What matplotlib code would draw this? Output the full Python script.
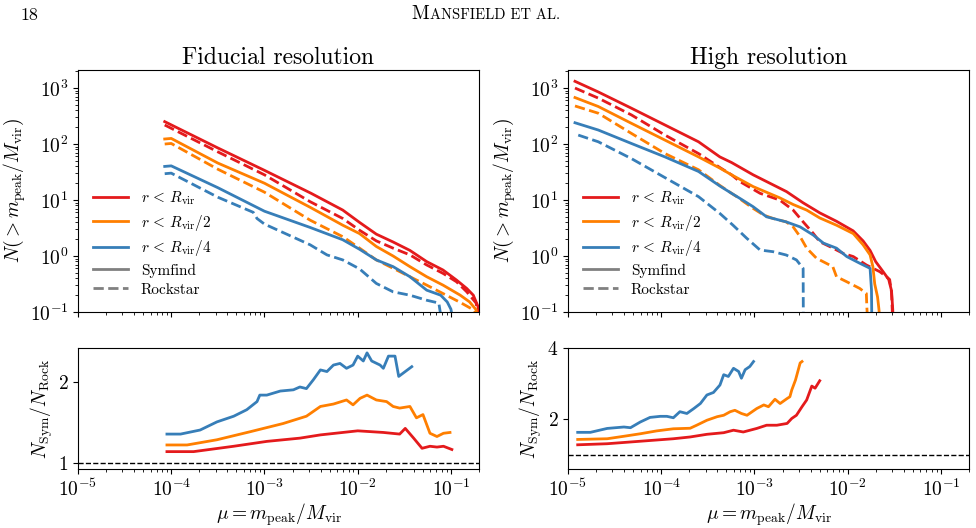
import numpy as np
import matplotlib
matplotlib.use("Agg")
import matplotlib.pyplot as plt
from matplotlib.lines import Line2D
from matplotlib.offsetbox import TextArea, HPacker, AnchoredOffsetbox

plt.rcParams["font.family"] = "serif"
plt.rcParams["font.serif"] = ["cmr10"]
plt.rcParams["mathtext.fontset"] = "cm"
plt.rcParams["axes.formatter.use_mathtext"] = True
plt.rcParams["axes.unicode_minus"] = False

RED, ORANGE, BLUE, GRAY = "#e41a1c", "#ff7f00", "#377eb8", "#808080"

# values, stored as log10(mu), log10(N)
# --- fiducial resolution, cumulative counts
fid_red_sym_x = [-4.07, -3.5, -3.0, -2.5, -2.16, -1.98, -1.80, -1.62, -1.44, -1.26, -1.085, -0.94, -0.83, -0.76, -0.71, -0.70]
fid_red_sym_y = [2.40, 1.93, 1.53, 1.12, 0.82, 0.60, 0.39, 0.25, 0.10, -0.10, -0.25, -0.43, -0.58, -0.70, -0.90, -1.05]
fid_red_rock_x = [-4.07, -3.5, -3.0, -2.51, -2.16, -1.98, -1.80, -1.62, -1.44, -1.26, -1.085, -0.94, -0.83, -0.73, -0.71]
fid_red_rock_y = [2.34, 1.86, 1.45, 0.97, 0.67, 0.46, 0.27, 0.14, 0.02, -0.16, -0.31, -0.46, -0.64, -0.84, -1.05]
fid_orange_sym_x = [-4.07, -4.0, -3.5, -3.0, -2.51, -2.16, -1.98, -1.80, -1.62, -1.44, -1.26, -1.085, -0.90, -0.80, -0.73, -0.72]
fid_orange_sym_y = [2.09, 2.10, 1.66, 1.30, 0.87, 0.55, 0.40, 0.17, 0.0, -0.19, -0.37, -0.52, -0.70, -0.82, -0.96, -1.05]
fid_orange_rock_x = [-4.07, -4.0, -3.5, -3.0, -2.51, -2.16, -1.98, -1.80, -1.62, -1.44, -1.26, -1.085, -0.91, -0.76, -0.72]
fid_orange_rock_y = [2.00, 2.01, 1.55, 1.14, 0.64, 0.345, 0.14, -0.07, -0.22, -0.37, -0.52, -0.67, -0.82, -0.96, -1.05]
fid_blue_sym_x = [-4.07, -4.0, -3.5, -3.0, -2.51, -2.16, -1.98, -1.80, -1.62, -1.44, -1.26, -1.11, -1.04, -1.00, -0.99]
fid_blue_sym_y = [1.60, 1.61, 1.22, 0.80, 0.51, 0.29, 0.12, -0.07, -0.19, -0.37, -0.61, -0.70, -0.82, -0.95, -1.05]
fid_blue_rock_x = [-4.07, -4.0, -3.5, -3.12, -3.08, -3.0, -2.51, -2.33, -2.16, -1.98, -1.80, -1.62, -1.44, -1.26, -1.13, -1.11]
fid_blue_rock_y = [1.47, 1.48, 1.05, 0.78, 0.67, 0.57, 0.20, 0.02, -0.07, -0.23, -0.49, -0.64, -0.70, -0.79, -0.84, -1.05]

# --- high resolution, cumulative counts
hi_red_sym_x = [-4.925, -4.675, -4.32, -3.96, -3.60, -3.371, -3.246, -3.014, -2.835, -2.656, -2.478, -2.299, -2.12, -1.942, -1.835, -1.76, -1.70, -1.62, -1.56, -1.53, -1.517, -1.515]
hi_red_sym_y = [3.12, 2.93, 2.64, 2.34, 2.04, 1.77, 1.67, 1.45, 1.30, 1.15, 0.95, 0.77, 0.62, 0.45, 0.27, 0.10, -0.10, -0.28, -0.42, -0.62, -0.95, -1.05]
hi_red_rock_x = [-4.925, -4.675, -4.32, -3.96, -3.60, -3.371, -3.246, -3.157, -2.94, -2.73, -2.585, -2.478, -2.37, -2.30, -2.19, -2.05, -1.94, -1.80, -1.656, -1.584, -1.55, -1.53, -1.52]
hi_red_rock_y = [3.00, 2.82, 2.52, 2.16, 1.83, 1.58, 1.45, 1.33, 1.12, 1.00, 0.82, 0.61, 0.405, 0.255, 0.167, 0.048, -0.01, -0.16, -0.28, -0.37, -0.42, -0.65, -1.05]
hi_orange_sym_x = [-4.925, -4.675, -4.32, -3.96, -3.60, -3.371, -3.246, -3.014, -2.73, -2.585, -2.44, -2.30, -2.12, -1.94, -1.835, -1.76, -1.73, -1.71, -1.68, -1.665, -1.66]
hi_orange_sym_y = [2.83, 2.67, 2.37, 2.07, 1.77, 1.57, 1.45, 1.24, 1.04, 0.92, 0.82, 0.68, 0.55, 0.40, 0.20, 0.02, -0.19, -0.50, -0.73, -0.95, -1.05]
hi_orange_rock_x = [-4.925, -4.675, -4.32, -3.96, -3.60, -3.371, -3.246, -3.19, -3.014, -2.90, -2.80, -2.66, -2.585, -2.51, -2.44, -2.335, -2.16, -2.12, -2.01, -1.87, -1.80, -1.795, -1.79]
hi_orange_rock_y = [2.68, 2.55, 2.19, 1.83, 1.54, 1.26, 1.12, 1.06, 0.85, 0.73, 0.67, 0.61, 0.52, 0.345, 0.14, -0.04, -0.19, -0.37, -0.46, -0.58, -0.67, -0.90, -1.05]
hi_blue_sym_x = [-4.925, -4.675, -4.32, -3.96, -3.60, -3.371, -3.246, -3.157, -3.014, -2.87, -2.66, -2.51, -2.37, -2.26, -2.12, -2.01, -1.87, -1.76, -1.745, -1.742]
hi_blue_sym_y = [2.38, 2.25, 2.01, 1.77, 1.51, 1.25, 1.12, 1.03, 0.88, 0.70, 0.61, 0.52, 0.375, 0.23, 0.14, -0.01, -0.13, -0.22, -0.60, -1.05]
hi_blue_rock_x = [-4.89, -4.675, -4.32, -3.96, -3.60, -3.371, -3.23, -3.085, -2.94, -2.80, -2.66, -2.55, -2.478, -2.476]
hi_blue_rock_y = [2.16, 2.04, 1.74, 1.40, 1.06, 0.76, 0.55, 0.32, 0.107, 0.077, 0.018, -0.07, -0.22, -1.05]

# --- ratio N_Sym / N_Rock (linear values), fiducial
fid_ratio_blue_x = [-4.046, -3.90, -3.69, -3.51, -3.33, -3.19, -3.08, -3.05, -2.975, -2.83, -2.69, -2.62, -2.55, -2.475, -2.40, -2.33, -2.26, -2.19, -2.12, -2.05, -2.0, -1.94, -1.90, -1.85, -1.76, -1.725, -1.67, -1.60, -1.56, -1.49, -1.42]
fid_ratio_blue_y = [1.36, 1.36, 1.41, 1.51, 1.58, 1.66, 1.76, 1.84, 1.84, 1.89, 1.905, 1.94, 1.92, 2.03, 2.15, 2.13, 2.21, 2.23, 2.17, 2.21, 2.32, 2.26, 2.36, 2.26, 2.21, 2.17, 2.32, 2.32, 2.07, 2.13, 2.19]
fid_ratio_orange_x = [-4.046, -3.83, -3.51, -3.15, -2.80, -2.55, -2.40, -2.26, -2.12, -2.05, -1.975, -1.90, -1.80, -1.69, -1.62, -1.55, -1.44, -1.37, -1.30, -1.225, -1.15, -1.08, -1.01]
fid_ratio_orange_y = [1.226, 1.226, 1.29, 1.39, 1.49, 1.58, 1.70, 1.73, 1.78, 1.72, 1.80, 1.84, 1.78, 1.76, 1.70, 1.68, 1.70, 1.56, 1.60, 1.37, 1.33, 1.37, 1.38]
fid_ratio_red_x = [-4.046, -3.76, -3.33, -2.975, -2.62, -2.40, -2.0, -1.725, -1.55, -1.49, -1.40, -1.31, -1.225, -1.15, -1.08, -0.99]
fid_ratio_red_y = [1.144, 1.144, 1.21, 1.27, 1.31, 1.35, 1.40, 1.38, 1.36, 1.43, 1.31, 1.185, 1.21, 1.20, 1.21, 1.17]

# --- ratio, high resolution
hi_ratio_blue_x = [-4.896, -4.76, -4.58, -4.40, -4.33, -4.225, -4.12, -4.01, -3.94, -3.87, -3.80, -3.725, -3.65, -3.58, -3.51, -3.44, -3.37, -3.33, -3.28, -3.225, -3.17, -3.14, -3.10, -3.05, -3.01]
hi_ratio_blue_y = [1.63, 1.63, 1.74, 1.78, 1.76, 1.92, 2.05, 2.08, 2.08, 2.04, 2.21, 2.16, 2.30, 2.44, 2.68, 2.75, 2.96, 3.25, 3.20, 3.43, 3.34, 3.15, 3.39, 3.48, 3.62]
hi_ratio_orange_x = [-4.896, -4.58, -4.40, -4.225, -4.05, -3.87, -3.69, -3.62, -3.51, -3.40, -3.33, -3.26, -3.21, -3.14, -3.08, -2.975, -2.90, -2.85, -2.78, -2.725, -2.65, -2.62, -2.60, -2.56, -2.51, -2.49]
hi_ratio_orange_y = [1.43, 1.45, 1.52, 1.59, 1.67, 1.73, 1.745, 1.83, 1.97, 2.07, 2.11, 2.21, 2.25, 2.16, 2.11, 2.30, 2.40, 2.35, 2.56, 2.44, 2.58, 2.63, 2.82, 3.10, 3.58, 3.62]
hi_ratio_red_x = [-4.896, -4.58, -4.225, -3.87, -3.69, -3.51, -3.33, -3.225, -3.12, -2.975, -2.87, -2.76, -2.65, -2.60, -2.55, -2.49, -2.44, -2.385, -2.35, -2.30]
hi_ratio_red_y = [1.28, 1.31, 1.38, 1.45, 1.50, 1.575, 1.62, 1.69, 1.64, 1.74, 1.83, 1.83, 1.88, 2.02, 2.11, 2.35, 2.54, 2.93, 2.87, 3.08]

fid_curves = [
    (fid_red_sym_x, fid_red_sym_y, RED, "-"),
    (fid_red_rock_x, fid_red_rock_y, RED, "--"),
    (fid_orange_sym_x, fid_orange_sym_y, ORANGE, "-"),
    (fid_orange_rock_x, fid_orange_rock_y, ORANGE, "--"),
    (fid_blue_sym_x, fid_blue_sym_y, BLUE, "-"),
    (fid_blue_rock_x, fid_blue_rock_y, BLUE, "--"),
]
hi_curves = [
    (hi_red_sym_x, hi_red_sym_y, RED, "-"),
    (hi_red_rock_x, hi_red_rock_y, RED, "--"),
    (hi_orange_sym_x, hi_orange_sym_y, ORANGE, "-"),
    (hi_orange_rock_x, hi_orange_rock_y, ORANGE, "--"),
    (hi_blue_sym_x, hi_blue_sym_y, BLUE, "-"),
    (hi_blue_rock_x, hi_blue_rock_y, BLUE, "--"),
]
fid_ratios = [
    (fid_ratio_blue_x, fid_ratio_blue_y, BLUE),
    (fid_ratio_orange_x, fid_ratio_orange_y, ORANGE),
    (fid_ratio_red_x, fid_ratio_red_y, RED),
]
hi_ratios = [
    (hi_ratio_blue_x, hi_ratio_blue_y, BLUE),
    (hi_ratio_orange_x, hi_ratio_orange_y, ORANGE),
    (hi_ratio_red_x, hi_ratio_red_y, RED),
]

XLIM = (1e-5, 0.2)
LW = 2.0

fig = plt.figure(figsize=(9.76, 5.28), dpi=100)
W, H = 976.0, 528.0


def box(x0, x1, ytop, ybot):
    return [x0 / W, 1 - ybot / H, (x1 - x0) / W, (ybot - ytop) / H]


ax_ft = fig.add_axes(box(78, 479, 70, 312))
ax_ht = fig.add_axes(box(568, 969, 70, 312))
ax_fb = fig.add_axes(box(78, 479, 348, 469))
ax_hb = fig.add_axes(box(568, 969, 348, 469))

for ax, curves, title in [(ax_ft, fid_curves, "Fiducial resolution"),
                          (ax_ht, hi_curves, "High resolution")]:
    for x, y, c, ls in curves:
        ax.plot(10 ** np.array(x), 10 ** np.array(y), color=c, ls=ls, lw=LW)
    ax.set_xscale("log"); ax.set_yscale("log")
    ax.set_xlim(*XLIM); ax.set_ylim(0.1, 2.1e3)
    ax.set_xticks([1e-5, 1e-4, 1e-3, 1e-2, 1e-1])
    ax.tick_params(labelbottom=False, labelsize=14)
    ax.set_ylabel(r"$N(>m_{\rm peak}/M_{\rm vir})$", fontsize=14, labelpad=1)
    ax.set_title(title, fontsize=17, pad=4)
    handles = [Line2D([], [], color=RED, lw=LW), Line2D([], [], color=ORANGE, lw=LW),
               Line2D([], [], color=BLUE, lw=LW), Line2D([], [], color=GRAY, lw=LW),
               Line2D([], [], color=GRAY, lw=LW, ls="--")]
    labels = [r"$r\,<\,R_{\rm vir}$", r"$r\,<\,R_{\rm vir}/2$", r"$r\,<\,R_{\rm vir}/4$",
              "Symfind", "Rockstar"]
    ax.legend(handles, labels, loc="lower left", frameon=False, fontsize=11,
              handlelength=2.3, handletextpad=0.8, labelspacing=0.35,
              borderaxespad=0.6)

for ax, ratios, yl, yt in [(ax_fb, fid_ratios, (0.93, 2.42), [1, 2]),
                           (ax_hb, hi_ratios, (0.6, 4.0), [2, 4])]:
    for x, y, c in ratios:
        ax.plot(10 ** np.array(x), y, color=c, lw=LW)
    ax.axhline(1.0, color="k", ls="--", lw=1.0)
    ax.set_xscale("log")
    ax.set_xlim(*XLIM); ax.set_ylim(*yl)
    ax.set_xticks([1e-5, 1e-4, 1e-3, 1e-2, 1e-1])
    ax.set_yticks(yt)
    ax.tick_params(labelsize=14)
    ax.set_ylabel(r"$N_{\rm Sym}/N_{\rm Rock}$", fontsize=14, labelpad=2)
    ax.set_xlabel(r"$\mu = m_{\rm peak}/M_{\rm vir}$", fontsize=14, labelpad=1)

# running head
fig.text(20 / W, 1 - 20 / H, "18", fontsize=13, ha="left", va="baseline")
head = HPacker(children=[TextArea("M", textprops=dict(fontsize=14)),
                         TextArea("ANSFIELD ET AL.", textprops=dict(fontsize=10.5))],
               align="baseline", pad=0, sep=0.5)
fig.add_artist(AnchoredOffsetbox(loc="upper center", child=head, pad=0, borderpad=0,
                                 frameon=False, bbox_to_anchor=(486 / W, 1 - 5 / H),
                                 bbox_transform=fig.transFigure))

fig.savefig("out.png", dpi=100)
